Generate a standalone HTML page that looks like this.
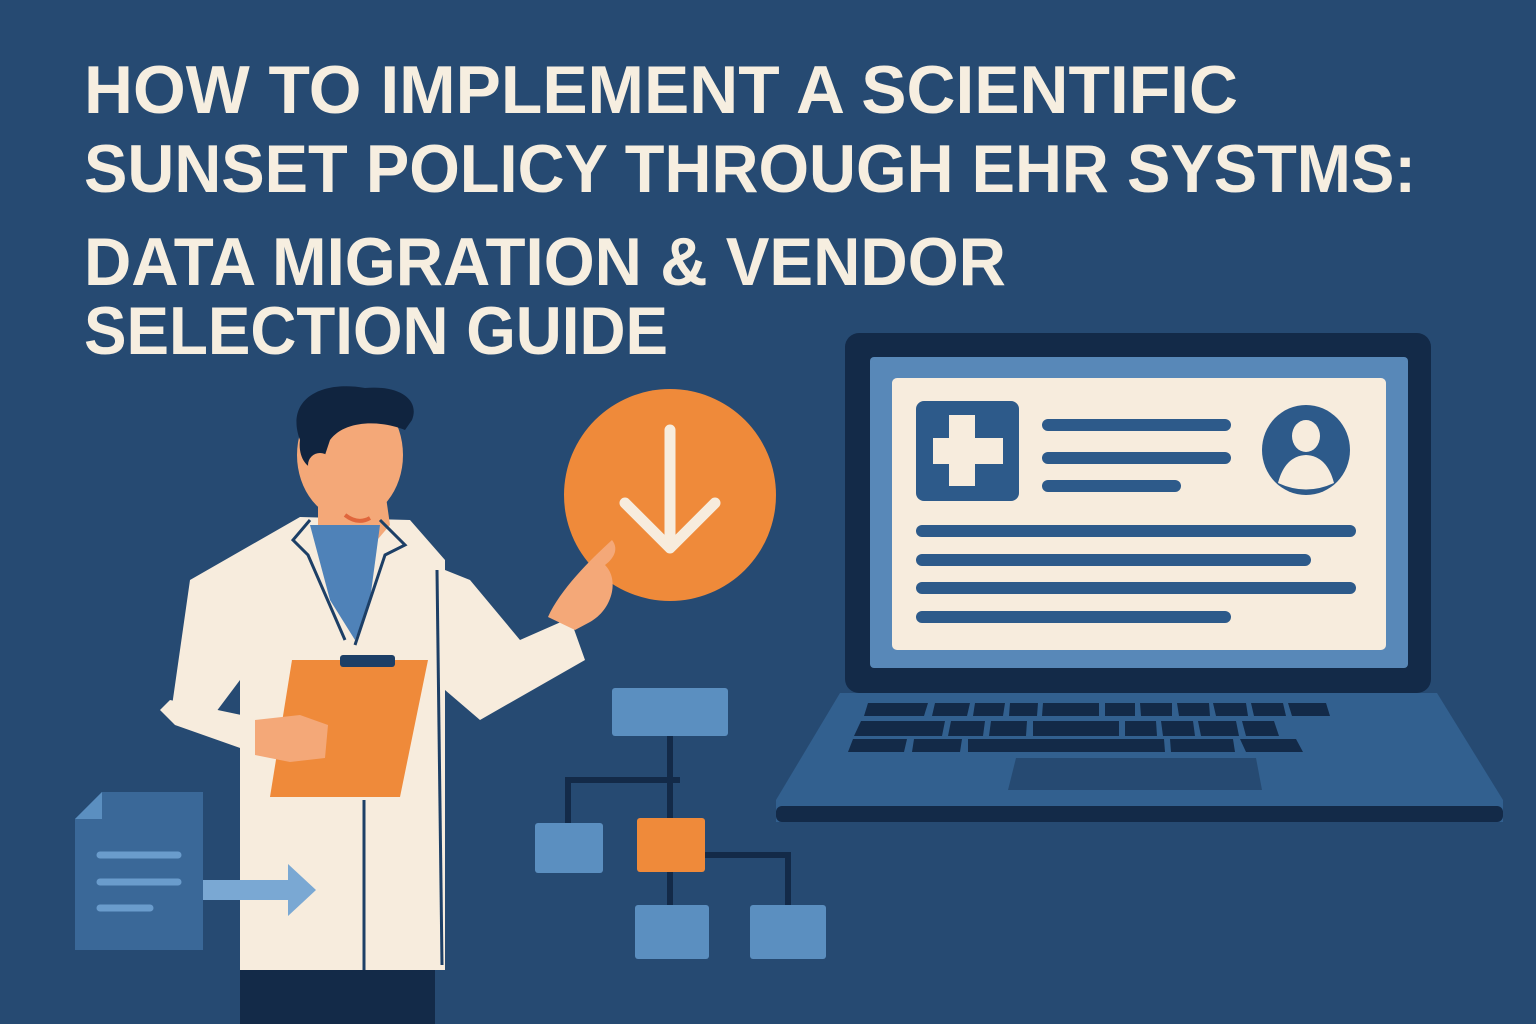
<!DOCTYPE html>
<html><head><meta charset="utf-8"><style>
html,body{margin:0;padding:0;background:#264a72;}
svg{display:block}
</style></head><body>
<svg width="1536" height="1024" viewBox="0 0 1536 1024" xmlns="http://www.w3.org/2000/svg">
<rect width="1536" height="1024" fill="#264a72"/>
<g font-family="Liberation Sans, sans-serif" font-weight="bold" fill="#f6eee0" font-size="68">
<text x="84" y="113" textLength="1154" lengthAdjust="spacingAndGlyphs">HOW TO IMPLEMENT A SCIENTIFIC</text>
<text x="84" y="192" textLength="1332" lengthAdjust="spacingAndGlyphs">SUNSET POLICY THROUGH EHR SYSTMS:</text>
<text x="84" y="285" textLength="922" lengthAdjust="spacingAndGlyphs">DATA MIGRATION &amp; VENDOR</text>
<text x="84" y="354" textLength="584" lengthAdjust="spacingAndGlyphs">SELECTION GUIDE</text>
</g>
<!-- laptop -->
<rect x="845" y="333" width="586" height="360" rx="14" fill="#132a48"/>
<rect x="870" y="357" width="538" height="311" rx="4" fill="#5888b8"/>
<rect x="892" y="378" width="494" height="272" rx="5" fill="#f7ecdd"/>
<rect x="916" y="401" width="103" height="100" rx="8" fill="#2d5a8a"/>
<rect x="949" y="415" width="26" height="71" fill="#f7ecdd"/>
<rect x="933" y="438" width="70" height="26" fill="#f7ecdd"/>
<g stroke="#2d5a8a" stroke-width="12" stroke-linecap="round">
<line x1="1048" y1="425" x2="1225" y2="425"/><line x1="1048" y1="458" x2="1225" y2="458"/><line x1="1048" y1="486" x2="1175" y2="486"/>
<line x1="922" y1="531" x2="1350" y2="531"/><line x1="922" y1="560" x2="1305" y2="560"/><line x1="922" y1="588" x2="1350" y2="588"/><line x1="922" y1="617" x2="1225" y2="617"/>
</g>
<ellipse cx="1306" cy="450" rx="44" ry="45" fill="#2d5a8a"/>
<ellipse cx="1306" cy="436" rx="14" ry="16" fill="#f7ecdd"/>
<path d="M1278 483 Q1285 456 1306 455 Q1327 456 1334 483 Q1306 496 1278 483Z" fill="#f7ecdd"/>
<path d="M840 693 L1437 693 L1503 800 L1503 822 L776 822 L776 800 Z" fill="#32608f"/>
<rect x="776" y="806" width="727" height="16" rx="6" fill="#132a48"/>
<g fill="#132a48">
<path d="M868 703h60l-4 13h-60z"/><path d="M935 703h35l-3 13h-35z"/><path d="M975 703h30l-2 13h-30z"/><path d="M1010 703h28l-1 13h-28z"/><path d="M1043 703h56v13h-57z"/><path d="M1105 703h30v13h-30z"/><path d="M1140 703h32v13h-31z"/><path d="M1177 703h32l1 13h-31z"/><path d="M1213 703h33l2 13h-32z"/><path d="M1251 703h32l3 13h-32z"/><path d="M1288 703h38l4 13h-38z"/>
<path d="M861 721h84l-3 15h-88z"/><path d="M951 721h34l-2 15h-35z"/><path d="M991 721h36l-1 15h-37z"/><path d="M1033 721h86v15h-86z"/><path d="M1125 721h31l1 15h-32z"/><path d="M1161 721h32l2 15h-32z"/><path d="M1198 721h38l3 15h-38z"/><path d="M1242 721h32l5 15h-33z"/>
<path d="M853 739h54l-3 13h-56z"/><path d="M914 739h48l-2 13h-48z"/><path d="M968 739h196l1 13h-197z"/><path d="M1170 739h63l2 13h-64z"/><path d="M1240 739h56l7 13h-57z"/>
<path d="M1016 758h240l6 32h-254z" fill="#264a72"/>
</g>
<!-- orange circle -->
<circle cx="670" cy="495" r="106" fill="#ef8a3a"/>
<path d="M670 430 V545 M625 503 L670 548 L715 503" stroke="#f7ecdd" stroke-width="11" fill="none" stroke-linecap="round" stroke-linejoin="round"/>
<!-- flowchart -->
<g stroke="#132a48" stroke-width="6" fill="none">
<path d="M670 735 V905"/><path d="M568 823 V780 H680"/><path d="M705 855 H788 V905"/>
</g>
<rect x="612" y="688" width="116" height="48" rx="3" fill="#5b8fc0"/>
<rect x="535" y="823" width="68" height="50" rx="3" fill="#5b8fc0"/>
<rect x="637" y="818" width="68" height="54" rx="3" fill="#ef8a3a"/>
<rect x="635" y="905" width="74" height="54" rx="3" fill="#5b8fc0"/>
<rect x="750" y="905" width="76" height="54" rx="3" fill="#5b8fc0"/>
<!-- document -->
<path d="M102 792 H203 V950 H75 V819 Z" fill="#3a6898"/>
<path d="M75 819 H102 V792 Z" fill="#5b8fc0"/>
<g stroke="#6a9ccc" stroke-width="7" stroke-linecap="round"><line x1="100" y1="855" x2="178" y2="855"/><line x1="100" y1="882" x2="178" y2="882"/><line x1="100" y1="908" x2="150" y2="908"/></g>
<!-- person -->
<rect x="240" y="960" width="195" height="64" fill="#132a48"/>
<path d="M415 558 L470 580 L520 640 L570 618 L585 660 L480 720 L445 690 Z" fill="#f7ecdd"/>
<path d="M548 617 C560 590 590 560 612 540 C620 550 612 560 605 565 C620 580 612 610 590 622 L575 630 Z" fill="#f4a878"/>
<path d="M300 517 L410 520 L445 560 L445 970 L240 970 L240 680 L210 720 L170 720 L190 580 Z" fill="#f7ecdd"/>
<path d="M170 700 L160 710 L175 725 L260 755 L265 720 Z" fill="#f7ecdd"/>
<path d="M318 495 L385 490 L390 525 L360 560 L318 530 Z" fill="#f4a878"/>
<path d="M310 525 L380 525 L370 600 L355 640 L330 600 Z" fill="#4f82b8"/>
<path d="M310 520 L293 540 L308 555 L345 640 M380 520 L405 545 L385 555 L355 645" stroke="#1d3f66" stroke-width="3" fill="none"/>
<line x1="364" y1="800" x2="364" y2="970" stroke="#1d3f66" stroke-width="3"/>
<line x1="437" y1="570" x2="442" y2="965" stroke="#1d3f66" stroke-width="3"/>
<ellipse cx="350" cy="455" rx="53" ry="65" fill="#f4a878"/>
<path d="M300 440 C285 400 320 380 365 388 C400 385 420 400 412 420 L405 430 C380 420 345 420 330 440 L320 470 C305 470 298 455 300 440Z" fill="#10243f"/>
<circle cx="320" cy="465" r="12" fill="#f4a878"/>
<path d="M345 515 Q358 525 370 518" stroke="#e0663c" stroke-width="4" fill="none"/>
<path d="M292 660 L428 660 L400 797 L270 797 Z" fill="#ef8a3a"/>
<rect x="340" y="655" width="55" height="12" rx="3" fill="#1d3f66"/>
<path d="M255 720 L300 715 L328 725 L325 758 L290 762 L255 755 Z" fill="#f4a878"/>
<path d="M203 880 H288 V864 L316 890 L288 916 V900 H203Z" fill="#7aa8d3"/>
</svg>
</body></html>
